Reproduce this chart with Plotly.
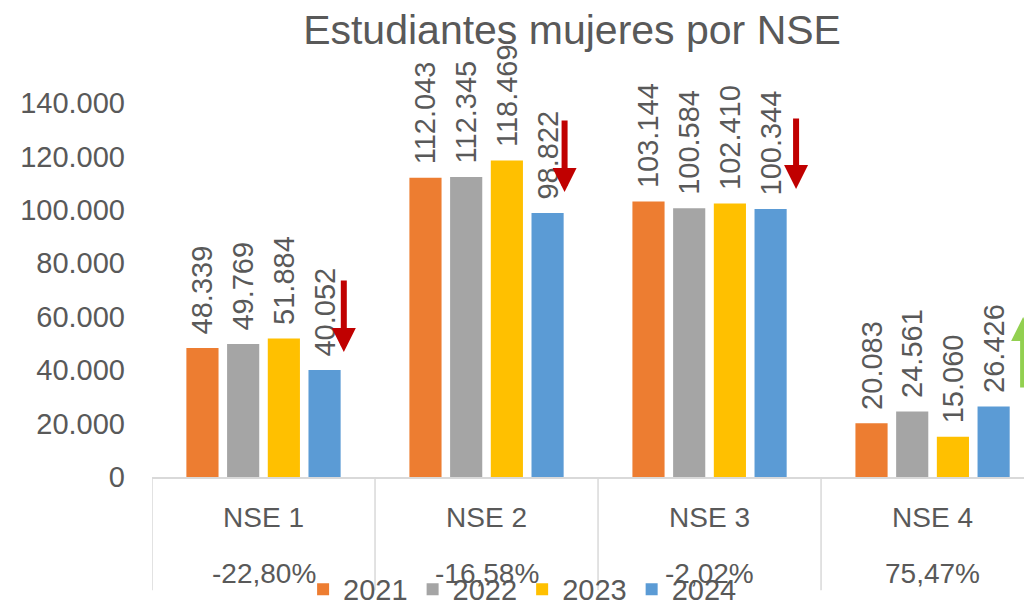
import plotly.graph_objects as go

categories = ["NSE 1", "NSE 2", "NSE 3", "NSE 4"]
changes = ["-22,80%", "-16,58%", "-2,02%", "75,47%"]
years = ["2021", "2022", "2023", "2024"]
values = {
    "2021": [48339, 112043, 103144, 20083],
    "2022": [49769, 112345, 100584, 24561],
    "2023": [51884, 118469, 102410, 15060],
    "2024": [40052, 98822, 100344, 26426],
}
colors = {"2021": "#ED7D31", "2022": "#A5A5A5", "2023": "#FFC000", "2024": "#5B9BD5"}
y_ticks = [0, 20000, 40000, 60000, 80000, 100000, 120000, 140000]

# trend arrows: (tail value, head value, offset from category centre)
arrow_tail = [74100, 134000, 134750, 32940]
arrow_head = [46800, 106700, 107800, 59890]
arrow_off = [0.36, 0.35, 0.388, 0.406]
arrow_color = ["#C00000", "#C00000", "#C00000", "#92D050"]

TXT = "#595959"
FONT = "Liberation Sans, Arial, sans-serif"

fig = go.Figure()
for yr in years:
    fig.add_trace(go.Bar(
        x=categories, y=values[yr], name=yr,
        marker=dict(color=colors[yr], line=dict(width=0)),
        texttemplate="\u00a0\u200a%{y:,.0f}", textposition="outside",
        textangle=-90, constraintext="none", cliponaxis=False,
        textfont=dict(size=29, color=TXT, family=FONT),
    ))

n = len(categories)
shapes = []
for i in range(n):
    shapes.append(dict(type="line", xref="x", yref="paper",
                       x0=i - 0.5, x1=i - 0.5, y0=0, y1=-0.259,
                       line=dict(color="#D9D9D9", width=1.5)))

annotations = []
for i, c in enumerate(changes):
    annotations.append(dict(x=i, y=-0.22, xref="x", yref="paper",
                            text=c, showarrow=False, yanchor="middle",
                            font=dict(size=28, color=TXT, family=FONT)))
for i in range(n):
    annotations.append(dict(x=i + arrow_off[i], y=arrow_head[i],
                            ax=i + arrow_off[i], ay=arrow_tail[i],
                            xref="x", yref="y", axref="x", ayref="y",
                            text="", showarrow=True, arrowhead=2,
                            arrowsize=0.8, arrowwidth=6,
                            arrowcolor=arrow_color[i]))

fig.update_layout(
    width=1024, height=606,
    margin=dict(l=152, r=0, t=40, b=129, autoexpand=False),
    paper_bgcolor="white", plot_bgcolor="white",
    separators=",.",
    barmode="group", bargap=0.27, bargroupgap=0.21,
    title=dict(text="Estudiantes mujeres por NSE", x=0.4817, xref="paper",
               xanchor="center", y=1 - 30 / 606, yanchor="middle",
               font=dict(size=41, color=TXT, family=FONT)),
    font=dict(family=FONT, color=TXT),
    xaxis=dict(range=[-0.5, 3.41], showgrid=False, showline=True,
               linecolor="#D9D9D9", linewidth=1.5, ticks="",
               tickfont=dict(size=28, color=TXT, family=FONT),
               ticklabelstandoff=15),
    yaxis=dict(range=[0, 163600], tickvals=y_ticks, tickformat=",.0f",
               showgrid=False, zeroline=False, showline=False, ticks="",
               tickfont=dict(size=29, color=TXT, family=FONT),
               ticklabelstandoff=26),
    legend=dict(orientation="h", x=0.425, xanchor="center", y=-0.257,
                yanchor="middle", bgcolor="rgba(0,0,0,0)",
                font=dict(size=29, color=TXT, family=FONT),
                itemwidth=30, tracegroupgap=0),
    shapes=shapes, annotations=annotations,
    showlegend=True,
)

fig.write_html("out.html", post_script="document.body.style.margin='0';",
               config={"displayModeBar": False})
